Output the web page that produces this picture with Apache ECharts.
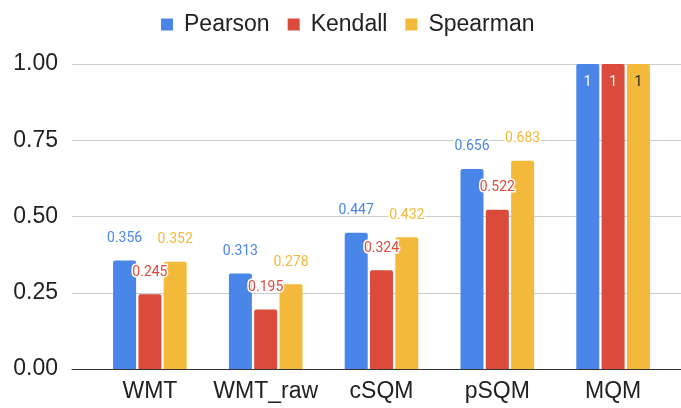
<!DOCTYPE html>
<html>
<head>
<meta charset="utf-8">
<script src="https://cdn.jsdelivr.net/npm/echarts@6/dist/echarts.min.js"></script>
<style>
  html, body { margin: 0; padding: 0; background: #fff; }
  #chart { width: 681px; height: 408px; }
</style>
</head>
<body>
<div id="chart"></div>
<script>
var categories = ['WMT', 'WMT_raw', 'cSQM', 'pSQM', 'MQM'];
var pearson = [0.356, 0.313, 0.447, 0.656, 1];
var kendall = [0.245, 0.195, 0.324, 0.522, 1];
var spearman = [0.352, 0.278, 0.432, 0.683, 1];
var yTicks = [0, 0.25, 0.5, 0.75, 1];

var colors = ['#4a86e8', '#db4b3c', '#f2b93b'];

// last category: label inside the bar
function makeData(values, insideColor) {
  return values.map(function (v, i) {
    if (i === values.length - 1) {
      return {
        value: v,
        label: { position: 'insideTop', distance: 11, color: insideColor, textBorderWidth: 0 }
      };
    }
    return v;
  });
}

function makeSeries(name, values, color, insideColor) {
  return {
    name: name,
    type: 'bar',
    xAxisIndex: 1,
    yAxisIndex: 1,
    barWidth: 23,
    barGap: '10%',
    itemStyle: { color: color, borderRadius: [2, 2, 0, 0] },
    label: {
      show: true,
      position: 'top',
      distance: 15,
      color: color,
      fontFamily: 'Roboto',
      fontSize: 14,
      textBorderColor: '#fff',
      textBorderWidth: 3
    },
    data: makeData(values, insideColor)
  };
}

var chart = echarts.init(document.getElementById('chart'));
var option = {
  animation: false,
  textStyle: { fontFamily: 'Liberation Sans' },
  legend: {
    top: 8,
    left: 156,
    itemWidth: 12,
    itemHeight: 12,
    itemGap: 18,
    icon: 'rect',
    textStyle: { fontSize: 23, color: '#222', padding: [0, 0, 0, 6] },
    data: ['Pearson', 'Kendall', 'Spearman']
  },
  // grid 0 carries the gridlines and y labels, grid 1 the bars
  grid: [
    { left: 72, right: 0, top: 64, bottom: 39 },
    { left: 92, right: 10, top: 64, bottom: 39 }
  ],
  xAxis: [
    {
      gridIndex: 0,
      type: 'category',
      data: [''],
      axisTick: { show: false },
      axisLabel: { show: false },
      axisLine: { lineStyle: { color: '#333' } }
    },
    {
      gridIndex: 1,
      type: 'category',
      data: categories,
      axisTick: { show: false },
      axisLine: { show: false },
      axisLabel: { interval: 0, fontSize: 23, color: '#222', margin: 11 }
    }
  ],
  yAxis: [
    {
      gridIndex: 0,
      type: 'value',
      min: yTicks[0],
      max: yTicks[yTicks.length - 1],
      interval: 0.25,
      axisLine: { show: false },
      axisTick: { show: false },
      splitLine: { lineStyle: { color: '#cccccc' } },
      axisLabel: {
        fontSize: 23,
        color: '#222',
        margin: 14,
        formatter: function (v) { return v.toFixed(2); }
      }
    },
    {
      gridIndex: 1,
      type: 'value',
      min: yTicks[0],
      max: yTicks[yTicks.length - 1],
      interval: 0.25,
      show: false
    }
  ],
  series: [
    makeSeries('Pearson', pearson, colors[0], '#fff'),
    makeSeries('Kendall', kendall, colors[1], '#fff'),
    makeSeries('Spearman', spearman, colors[2], '#222')
  ]
};
chart.setOption(option);
</script>
</body>
</html>
